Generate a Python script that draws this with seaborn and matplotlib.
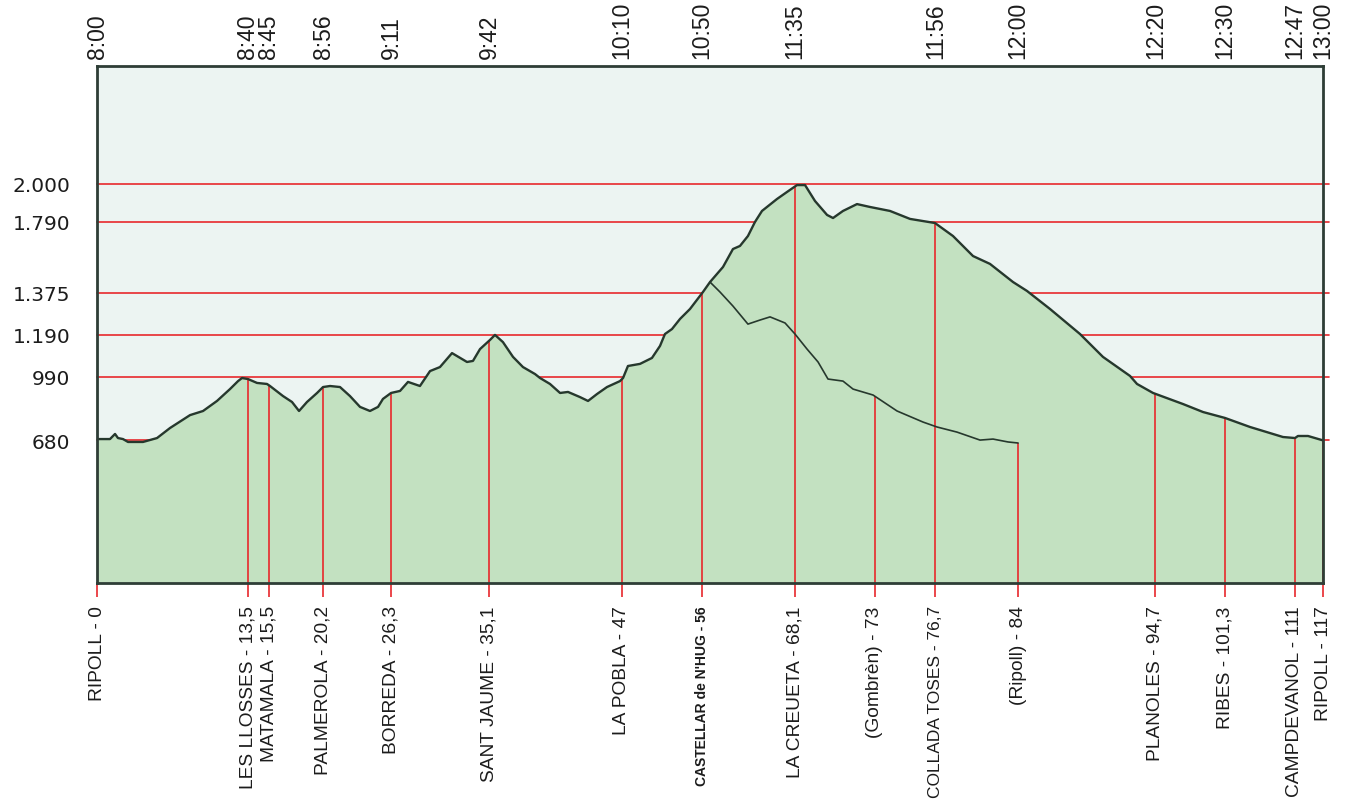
import numpy as np
import pandas as pd
import seaborn as sns
import matplotlib.pyplot as plt

# Main route profile: position along the chart and elevation (m)
route_x = [0, 1.24, 1.72, 2.00, 2.48, 2.96, 4.39, 5.73, 6.97, 8.88, 10.12, 11.45, 12.69,
           13.46, 13.84, 14.41, 15.27, 16.22, 16.51, 17.75, 18.61, 19.28, 20.04, 21.00,
           21.57, 22.24, 23.19, 24.14, 25.10, 26.05, 26.82, 27.29, 28.06, 28.92, 29.68,
           30.82, 31.78, 32.73, 33.88, 35.31, 35.88, 36.55, 37.50, 37.98, 38.74, 39.70,
           40.65, 41.80, 42.28, 43.23, 44.19, 44.95, 46.09, 46.86, 47.72, 48.67, 49.91,
           50.20, 50.67, 51.82, 52.96, 53.73, 54.20, 54.87, 55.64, 56.59, 57.83, 58.50,
           59.74, 60.69, 61.36, 62.12, 62.79, 63.46, 64.89, 65.85, 66.80, 67.57, 68.52,
           69.67, 70.24, 71.19, 72.53, 73.77, 75.68, 77.59, 79.97, 81.69, 83.60, 85.22,
           87.42, 88.75, 90.95, 93.81, 96.00, 98.58, 99.25, 100.78, 103.64, 105.55,
           107.65, 110.03, 113.18, 114.33, 114.61, 115.57, 116.90, 117]
route_elev = [687, 687, 712, 692, 687, 673, 673, 692, 741, 804, 824, 873, 931,
              970, 985, 980, 961, 956, 946, 897, 868, 824, 868, 912,
              941, 946, 941, 897, 844, 824, 844, 883, 912, 922, 966,
              946, 1018, 1037, 1103, 1061, 1066, 1122, 1165, 1189, 1155, 1085,
              1037, 1004, 985, 956, 912, 917, 892, 873, 907, 941, 970,
              985, 1042, 1052, 1080, 1137, 1193, 1215, 1260, 1304, 1381, 1439,
              1527, 1632, 1650, 1708, 1790, 1851, 1917, 1956, 1994, 1994, 1906,
              1829, 1812, 1851, 1889, 1873, 1851, 1807, 1784, 1708, 1591, 1545,
              1439, 1387, 1304, 1193, 1085, 995, 956, 912, 858, 819,
              790, 746, 697, 692, 702, 702, 682, 682]

# Alternative descent Castellar -> Gombrèn -> Ripoll
branch_x = [58.50, 59.45, 60.69, 62.12, 63.27, 64.23, 65.66, 66.61, 67.76, 68.81, 69.76,
            71.19, 72.15, 74.06, 76.35, 78.83, 80.16, 82.07, 84.27, 85.51, 86.94, 87.90]
branch_elev = [1439, 1381, 1317, 1237, 1255, 1269, 1242, 1193, 1122, 1061, 980,
               970, 931, 902, 824, 770, 746, 721, 682, 687, 673, 668]

# Stops (bottom axis) and passing times (top axis)
stop_x = [0, 14.4, 16.4, 21.6, 28.1, 37.4, 50.1, 57.7, 66.6, 74.2, 80.0, 87.9,
          101.0, 107.6, 114.3, 117]
stop_names = ["RIPOLL - 0", "LES LLOSSES - 13,5", "MATAMALA - 15,5", "PALMEROLA - 20,2",
              "BORREDA - 26,3", "SANT JAUME - 35,1", "LA POBLA - 47",
              "CASTELLAR de N'HUG - 56", "LA CREUETA - 68,1", "(Gombrèn) - 73",
              "COLLADA TOSES - 76,7", "(Ripoll) - 84", "PLANOLES - 94,7",
              "RIBES - 101,3", "CAMPDEVANOL - 111", "RIPOLL - 117"]
stop_on_branch = [False, False, False, False, False, False, False, False, False,
                  True, False, True, False, False, False, False]
stop_times = ["8:00", "8:40", "8:45", "8:56", "9:11", "9:42", "10:10", "10:50", "11:35",
              "", "11:56", "12:00", "12:20", "12:30", "12:47", "13:00"]

elev_ticks = [680, 990, 1190, 1375, 1790, 2000]
elev_labels = ["680", "990", "1.190", "1.375", "1.790", "2.000"]

# The original elevation axis is not linear: piecewise scale between the marked heights
scale_elev = [-1000, 0, 680, 990, 1190, 1375, 1790, 2000, 2650, 5000]
scale_pos = [-209.6, 0, 142.5, 206, 248.3, 290, 361, 399, 517, 942]


def fwd(v):
    return np.interp(v, scale_elev, scale_pos)


def inv(p):
    return np.interp(p, scale_pos, scale_elev)


RED = "#e8282c"
FILL = "#c3e1c1"
SKY = "#ecf4f2"
LINE = "#26382d"
FRAME = "#2e3d36"
TEXT = "#1c1c1c"

sns.set_style("white")
plt.rcParams["font.family"] = ["Liberation Sans", "DejaVu Sans"]

route = pd.DataFrame({"x": route_x, "elev": route_elev})
branch = pd.DataFrame({"x": branch_x, "elev": branch_elev})

fig = plt.figure(figsize=(13.48, 8.03), dpi=100)
ax = fig.add_axes([0.07196, 0.27273, 0.9095, 0.64384])
ax.set_facecolor(SKY)
ax.set_yscale("function", functions=(fwd, inv))
ax.set_xlim(0, 117)
ax.set_ylim(0, 2650)

# horizontal reference lines, hidden behind the profile fill
for e in elev_ticks:
    ax.axhline(e, xmin=0, xmax=1.005, color=RED, lw=1.2, zorder=0.5, clip_on=False)

ax.fill_between(route["x"], route["elev"], 0, color=FILL, lw=0, zorder=1)

# vertical markers up to the profile at each stop
stop_elev = [np.interp(x, branch_x, branch_elev) if b else np.interp(x, route_x, route_elev)
             for x, b in zip(stop_x, stop_on_branch)]
ax.vlines(stop_x, 0, stop_elev, color=RED, lw=1.2, zorder=2)

sns.lineplot(data=route, x="x", y="elev", ax=ax, color=LINE, lw=1.7,
             estimator=None, sort=False, zorder=3)
sns.lineplot(data=branch, x="x", y="elev", ax=ax, color=LINE, lw=1.2,
             estimator=None, sort=False, zorder=3)

ax.set_xlabel("")
ax.set_ylabel("")

# bottom axis: stop names
ax.set_xticks(stop_x, labels=stop_names, rotation=90)
ax.tick_params(axis="x", color=RED, length=10, width=1.2, pad=6,
               labelsize=13.8, labelcolor=TEXT)
for lab in ax.get_xticklabels():
    if lab.get_text().startswith("CASTELLAR"):
        lab.set_fontweight("bold")
        lab.set_fontsize(10)
    elif lab.get_text().startswith("COLLADA"):
        lab.set_fontsize(12.5)

# left axis: marked elevations
ax.set_yticks(elev_ticks, labels=elev_labels)
ax.minorticks_off()
ax.tick_params(axis="y", color=RED, length=11, width=1.2, pad=8,
               labelsize=14.5, labelcolor=TEXT)
for lab in ax.get_yticklabels():
    lab.set_fontfamily("DejaVu Sans")

for s in ax.spines.values():
    s.set_color(FRAME)
    s.set_linewidth(2)
    s.set_zorder(4)

# top axis: passing times
ax_top = ax.twiny()
ax_top.set_xlim(0, 117)
top_x = [x for x, t in zip(stop_x, stop_times) if t]
top_t = [t for t in stop_times if t]
ax_top.set_xticks(top_x, labels=top_t, rotation=90)
ax_top.tick_params(axis="x", length=0, pad=6, labelsize=16.5, labelcolor=TEXT)
for s in ax_top.spines.values():
    s.set_visible(False)

fig.savefig("out.png", dpi=100)
